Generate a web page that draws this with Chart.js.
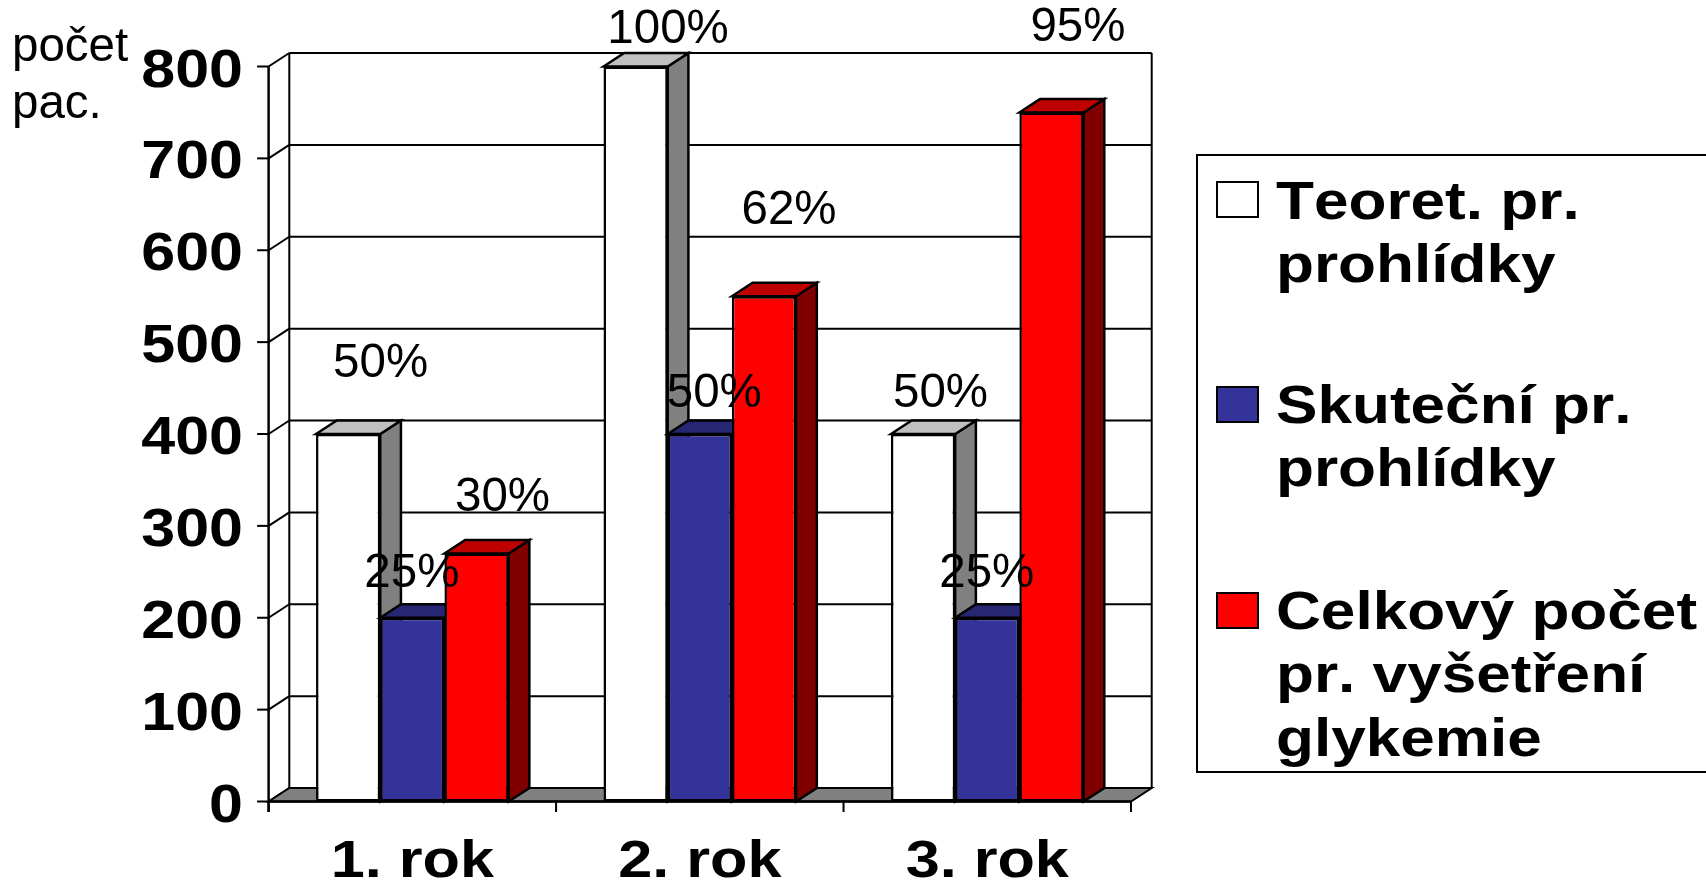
<!DOCTYPE html>
<html lang="cs">
<head>
<meta charset="utf-8">
<title>Prohlídky</title>
<script src="https://cdn.jsdelivr.net/npm/chart.js@4/dist/chart.umd.min.js"></script>
<style>
    html, body { margin: 0; padding: 0; background: #ffffff; overflow: hidden; }
    canvas { display: block; }
</style>
</head>
<body>
<canvas id="rokChart" width="1706" height="882"></canvas>
<script>
const categories = ['1. rok', '2. rok', '3. rok'];
const yTicks = [0, 100, 200, 300, 400, 500, 600, 700, 800];

const teoretValues = [400, 800, 400];
const skutecniValues = [200, 400, 200];
const celkovyValues = [270, 550, 750];

const teoretPct = ['50%', '100%', '50%'];
const skutecniPct = ['25%', '50%', '25%'];
const celkovyPct = ['30%', '62%', '95%'];

const teoretLegend = ['Teoret. pr.', 'prohlídky'];
const skutecniLegend = ['Skuteční pr.', 'prohlídky'];
const celkovyLegend = ['Celkový počet', 'pr. vyšetření', 'glykemie'];

// shift of each % label from the top centre of its bar (the labels sit by hand in the original)
const pctShiftX = [[32.5, 32.5, 17.5], [-0.5, 14.5, -0.5], [26, 25, 26.5]];
const pctShiftY = [[-57, -23.5, -27], [-31, -27, -31], [-42, -72.5, -71.5]];

const DEPTH_X = 20.7;
const DEPTH_Y = 13.5;
const FONT = '"Liberation Sans", Arial, sans-serif';

function poly(ctx, pts, fill) {
    ctx.beginPath();
    pts.forEach(function (p, i) {
        if (i === 0) ctx.moveTo(p[0], p[1]);
        else ctx.lineTo(p[0], p[1]);
    });
    ctx.closePath();
    if (fill) {
        ctx.fillStyle = fill;
        ctx.fill();
    }
    ctx.stroke();
}

function line(ctx, x1, y1, x2, y2) {
    ctx.beginPath();
    ctx.moveTo(x1, y1);
    ctx.lineTo(x2, y2);
    ctx.stroke();
}

// the original text is a bit wider than the font, so squeeze it through a scale
function wideText(ctx, text, x, y, font, sx, align) {
    ctx.save();
    ctx.font = font;
    ctx.fontKerning = 'none';
    ctx.fillStyle = '#000000';
    ctx.textAlign = align;
    ctx.textBaseline = 'alphabetic';
    ctx.translate(x, y);
    ctx.scale(sx, 1);
    ctx.fillText(text, 0, 0);
    ctx.restore();
}

function drawBarSides(chart, index) {
    const ctx = chart.ctx;
    const ds = chart.data.datasets[index];
    ctx.save();
    ctx.strokeStyle = '#000000';
    ctx.lineWidth = 2.5;
    chart.getDatasetMeta(index).data.forEach(function (bar) {
        const l = bar.x - bar.width / 2;
        const r = bar.x + bar.width / 2;
        poly(ctx, [
            [r, bar.y],
            [r + DEPTH_X, bar.y - DEPTH_Y],
            [r + DEPTH_X, bar.base - DEPTH_Y],
            [r, bar.base]
        ], ds.sideColor);
        poly(ctx, [
            [l, bar.y],
            [l + DEPTH_X, bar.y - DEPTH_Y],
            [r + DEPTH_X, bar.y - DEPTH_Y],
            [r, bar.y]
        ], ds.topColor);
    });
    ctx.restore();
}

const box3d = {
    id: 'box3d',
    beforeDatasetsDraw: function (chart) {
        const ctx = chart.ctx;
        const x = chart.scales.x;
        const y = chart.scales.y;
        const base = y.getPixelForValue(0);
        const top = y.getPixelForValue(800);

        ctx.save();
        ctx.strokeStyle = '#000000';
        ctx.lineWidth = 2;

        // back wall and its gridlines
        yTicks.forEach(function (v) {
            const py = y.getPixelForValue(v);
            if (v > 0) line(ctx, x.left + DEPTH_X, py - DEPTH_Y, x.right + DEPTH_X, py - DEPTH_Y);
            line(ctx, x.left, py, x.left + DEPTH_X, py - DEPTH_Y);
            line(ctx, x.left - 11.5, py, x.left, py);
        });
        line(ctx, x.left + DEPTH_X, top - DEPTH_Y, x.left + DEPTH_X, base - DEPTH_Y);
        line(ctx, x.right + DEPTH_X, top - DEPTH_Y, x.right + DEPTH_X, base - DEPTH_Y);

        // floor
        poly(ctx, [
            [x.left, base],
            [x.left + DEPTH_X, base - DEPTH_Y],
            [x.right + DEPTH_X, base - DEPTH_Y],
            [x.right, base]
        ], '#808080');

        // ticks between the categories
        for (let i = 0; i <= categories.length; i++) {
            const px = x.left + (x.right - x.left) * i / categories.length;
            line(ctx, px, base, px, base + 10.5);
        }

        ctx.lineWidth = 2.5;
        line(ctx, x.left, top, x.left, base + 10.5);
        line(ctx, x.left, base, x.right, base);
        ctx.restore();
    },
    // datasets are painted below, first to last, so the later bar covers the side of the earlier one
    beforeDatasetDraw: function () {
        return false;
    },
    afterDatasetsDraw: function (chart) {
        chart.data.datasets.forEach(function (ds, i) {
            drawBarSides(chart, i);
            chart.getDatasetMeta(i).controller.draw();
        });
    },
    afterDraw: function (chart) {
        const ctx = chart.ctx;
        const x = chart.scales.x;
        const y = chart.scales.y;
        const tickFont = 'bold 53px ' + FONT;
        const plainFont = '47.5px ' + FONT;
        const legendFont = 'bold 54px ' + FONT;

        y.ticks.forEach(function (t) {
            wideText(ctx, String(t.value), 243, y.getPixelForValue(t.value) + 20, tickFont, 1.15, 'right');
        });
        categories.forEach(function (c, i) {
            wideText(ctx, c, x.getPixelForValue(i), 877, 'bold 51px ' + FONT, 1.2, 'center');
        });

        wideText(ctx, 'počet', 12, 61, plainFont, 1, 'left');
        wideText(ctx, 'pac.', 12, 118, plainFont, 1, 'left');

        // % labels
        [teoretPct, skutecniPct, celkovyPct].forEach(function (labels, s) {
            const meta = chart.getDatasetMeta(s);
            labels.forEach(function (text, i) {
                const bar = meta.data[i];
                wideText(ctx, text, bar.x + pctShiftX[s][i], bar.y + pctShiftY[s][i], plainFont, 1, 'center');
            });
        });

        // legend
        ctx.save();
        ctx.strokeStyle = '#000000';
        ctx.lineWidth = 2;
        ctx.fillStyle = '#ffffff';
        ctx.fillRect(1197, 155, 520, 617);
        ctx.strokeRect(1197, 155, 520, 617);
        const swatchY = [182, 387, 593];
        const firstBaseline = [218.5, 423, 629];
        [teoretLegend, skutecniLegend, celkovyLegend].forEach(function (lines, s) {
            ctx.fillStyle = chart.data.datasets[s].backgroundColor;
            ctx.fillRect(1217, swatchY[s], 41, 35);
            ctx.strokeRect(1217, swatchY[s], 41, 35);
            lines.forEach(function (text, i) {
                wideText(ctx, text, 1276, firstBaseline[s] + i * 63.3, legendFont, 1.15, 'left');
            });
        });
        ctx.restore();
    }
};

new Chart(document.getElementById('rokChart'), {
    type: 'bar',
    data: {
        labels: categories,
        datasets: [
            {
                label: teoretLegend.join(' '),
                data: teoretValues,
                backgroundColor: '#ffffff',
                topColor: '#c0c0c0',
                sideColor: '#808080'
            },
            {
                label: skutecniLegend.join(' '),
                data: skutecniValues,
                backgroundColor: '#333399',
                topColor: '#262673',
                sideColor: '#1a1a4d'
            },
            {
                label: celkovyLegend.join(' '),
                data: celkovyValues,
                backgroundColor: '#ff0000',
                topColor: '#bf0000',
                sideColor: '#800000'
            }
        ]
    },
    options: {
        responsive: false,
        animation: false,
        devicePixelRatio: 1,
        layout: { padding: { left: 268.6, right: 575, top: 66.5, bottom: 80.5 } },
        datasets: {
            bar: {
                barPercentage: 1,
                categoryPercentage: 0.67,
                borderColor: '#000000',
                borderWidth: 2.5,
                borderSkipped: false
            }
        },
        plugins: {
            legend: { display: false },
            tooltip: { enabled: false }
        },
        scales: {
            x: {
                grid: { display: false, drawTicks: false },
                border: { display: false },
                ticks: { display: false }
            },
            y: {
                min: 0,
                max: 800,
                afterBuildTicks: function (scale) {
                    scale.ticks = yTicks.map(function (v) { return { value: v }; });
                },
                grid: { display: false, drawTicks: false },
                border: { display: false },
                ticks: { display: false }
            }
        }
    },
    plugins: [box3d]
});
</script>
</body>
</html>
